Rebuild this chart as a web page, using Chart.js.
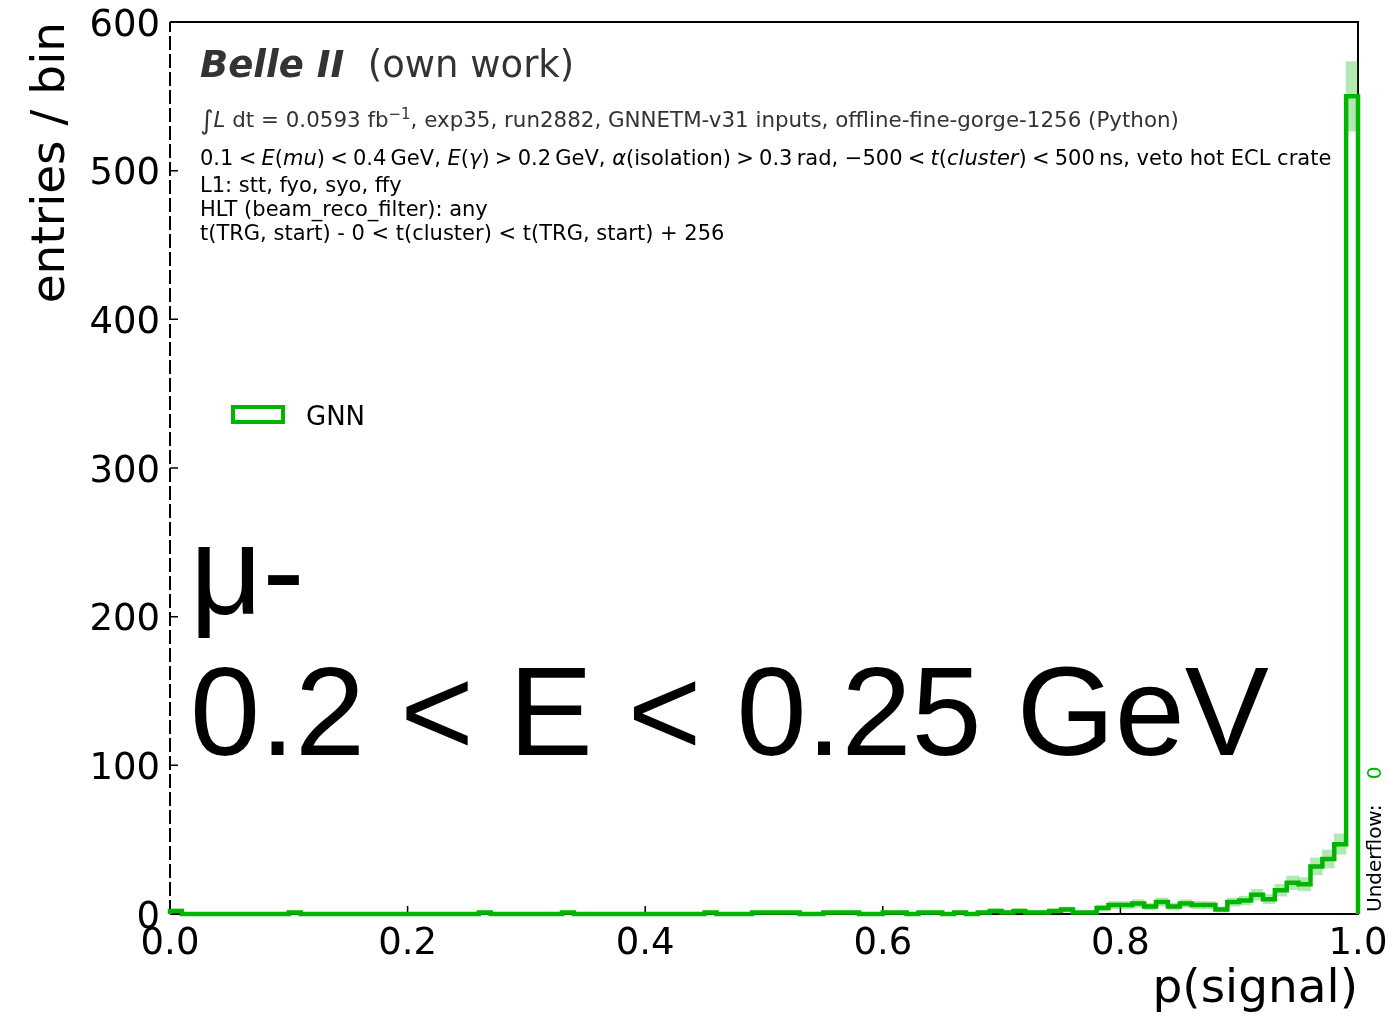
<!DOCTYPE html>
<html>
<head>
<meta charset="utf-8">
<script src="https://cdn.jsdelivr.net/npm/chart.js@4.4.0/dist/chart.umd.min.js"></script>
<style>
  html, body { margin: 0; padding: 0; background: #fff; }
  #wrap { width: 1388px; height: 1022px; }
</style>
</head>
<body>
<div id="wrap"><canvas id="histo" width="1388" height="1022"></canvas></div>
<script>
// GNN output p(signal), 100 bins of width 0.01 between 0 and 1
const binWidth = 0.01
const counts = [
  2, 0, 0, 0, 0, 0, 0, 0, 0, 0,
  1, 0, 0, 0, 0, 0, 0, 0, 0, 0,
  0, 0, 0, 0, 0, 0, 1, 0, 0, 0,
  0, 0, 0, 1, 0, 0, 0, 0, 0, 0,
  0, 0, 0, 0, 0, 1, 0, 0, 0, 1,
  1, 1, 1, 0, 0, 1, 1, 1, 0, 0,
  1, 1, 0, 1, 1, 0, 1, 0, 1, 2,
  1, 2, 1, 1, 2, 3, 1, 1, 4, 6,
  6, 7, 5, 8, 5, 7, 6, 6, 3, 8,
  9, 13, 10, 16, 21, 20, 32, 37, 47, 550
]
const underflow = 0
const xTicks = [0, 0.2, 0.4, 0.6, 0.8, 1.0]
const yTicks = [0, 100, 200, 300, 400, 500, 600]
const selectionLines = [
  'L1: stt, fyo, syo, ffy',
  'HLT (beam_reco_filter): any',
  't(TRG, start) - 0 < t(cluster) < t(TRG, start) + 256'
]

const GREEN = 'rgb(0, 180, 0)'
const BAND = 'rgba(0, 180, 0, 0.3)'
const SANS = '"DejaVu Sans", sans-serif'
const SP = '\u2005'   // narrower gap around relations, like mathtext

// outline of the histogram: step line through the bin edges
const stepPoints = [{ x: 0, y: 0 }]
counts.forEach((c, i) => stepPoints.push({ x: i * binWidth, y: c }))
stepPoints.push({ x: counts.length * binWidth, y: counts[counts.length - 1] })
stepPoints.push({ x: counts.length * binWidth, y: 0 })

// poisson error band per bin
const bandBars = counts.map((c, i) => ({
  x: (i + 0.5) * binWidth,
  y: [c - Math.sqrt(c), c + Math.sqrt(c)]
}))

// text pieces in a row; optional 4th item raises the piece
function drawRuns(ctx, x, y, runs) {
  runs.forEach(([text, font, color, rise]) => {
    ctx.font = font
    ctx.fillStyle = color || '#000'
    ctx.fillText(text, x, y - (rise || 0))
    x += ctx.measureText(text).width
  })
}

const frame = {
  id: 'frame',
  beforeDatasetsDraw(chart) {
    const { ctx, chartArea: a, scales: { x, y } } = chart
    ctx.save()
    ctx.strokeStyle = '#000'
    ctx.lineWidth = 2
    ctx.beginPath()
    ctx.moveTo(a.left, a.top)
    ctx.lineTo(a.right, a.top)
    ctx.lineTo(a.right, a.bottom)
    ctx.lineTo(a.left, a.bottom)
    ctx.stroke()
    ctx.setLineDash([14, 4])
    ctx.beginPath()
    ctx.moveTo(a.left, a.bottom)
    ctx.lineTo(a.left, a.top)
    ctx.stroke()
    ctx.setLineDash([])

    // ticks pointing inwards
    ctx.lineWidth = 1.5
    ctx.beginPath()
    xTicks.forEach(v => {
      const px = x.getPixelForValue(v)
      ctx.moveTo(px, a.bottom)
      ctx.lineTo(px, a.bottom - 8)
    })
    yTicks.forEach(v => {
      const py = y.getPixelForValue(v)
      ctx.moveTo(a.left, py)
      ctx.lineTo(a.left + 8, py)
    })
    ctx.stroke()
    ctx.restore()
  }
}

const labels = {
  id: 'labels',
  afterDraw(chart) {
    const { ctx, chartArea: a } = chart
    ctx.save()
    const tx = a.left + 30
    ctx.textAlign = 'left'
    ctx.textBaseline = 'alphabetic'
    drawRuns(ctx, tx, a.top + 55, [
      ['Belle II', 'italic bold 37px ' + SANS, '#333'],
      ['  (own work)', '37px ' + SANS, '#333']
    ])
    const small = '21px ' + SANS
    const smallIt = 'italic 21px ' + SANS
    const lumi = '21.4px ' + SANS
    drawRuns(ctx, tx, a.top + 105, [
      ['\u222B', '26px ' + SANS, '#333', -2],
      ['L', 'italic 21.4px ' + SANS, '#333'],
      [' dt = 0.0593 fb', lumi, '#333'],
      ['\u22121', '15px ' + SANS, '#333', 8],
      [', exp35, run2882, GNNETM-v31 inputs, offline-fine-gorge-1256 (Python)', lumi, '#333']
    ])
    drawRuns(ctx, tx, a.top + 143, [
      ['0.1' + SP + '<' + SP, small], ['E', smallIt], ['(', small], ['mu', smallIt],
      [')' + SP + '<' + SP + '0.4\u2009GeV, ', small], ['E', smallIt], ['(', small], ['\u03B3', smallIt],
      [')' + SP + '>' + SP + '0.2\u2009GeV, ', small], ['\u03B1', smallIt],
      ['(isolation)' + SP + '>' + SP + '0.3\u2009rad, \u2212500' + SP + '<' + SP, small], ['t', smallIt], ['(', small],
      ['cluster', smallIt], [')' + SP + '<' + SP + '500\u2009ns, veto hot ECL crate', small]
    ])
    ctx.font = small
    ctx.fillStyle = '#000'
    selectionLines.forEach((s, i) => ctx.fillText(s, tx, a.top + 170 + i * 24))

    // legend entry
    ctx.strokeStyle = GREEN
    ctx.lineWidth = 4
    ctx.strokeRect(a.left + 63, a.top + 385, 50, 15)
    ctx.font = '26px ' + SANS
    ctx.fillStyle = '#000'
    ctx.fillText('GNN', a.left + 136, a.top + 403)

    // particle and energy range
    ctx.font = '126px "Liberation Sans", Arial, sans-serif'
    ctx.fillText('\u03BC-', a.left + 20, a.top + 592)
    ctx.fillText('0.2 < E < 0.25 GeV', a.left + 20, a.top + 733)

    // underflow count, vertical on the right
    ctx.translate(a.right + 18, a.bottom - 2)
    ctx.rotate(-Math.PI / 2)
    ctx.textBaseline = 'middle'
    drawRuns(ctx, 0, 0, [
      ['Underflow:    ', '20px ' + SANS, '#000'],
      [String(underflow), '20px ' + SANS, GREEN]
    ])
    ctx.restore()
  }
}

const chart = new Chart(document.getElementById('histo'), {
  type: 'bar',
  data: {
    datasets: [
      {
        type: 'line',
        data: stepPoints,
        borderColor: GREEN,
        borderWidth: 4.5,
        pointRadius: 0,
        stepped: 'before',
        fill: false,
        clip: 4,
        order: 1
      },
      {
        data: bandBars,
        backgroundColor: BAND,
        borderWidth: 0,
        barPercentage: 1,
        categoryPercentage: 1,
        grouped: false,
        order: 2
      }
    ]
  },
  options: {
    responsive: false,
    animation: false,
    devicePixelRatio: 1,
    layout: { padding: { left: 0, top: 22, right: 30, bottom: 0 } },
    plugins: {
      legend: { display: false },
      tooltip: { enabled: false }
    },
    scales: {
      x: {
        type: 'linear',
        min: 0,
        max: 1,
        offset: false,
        grid: { display: false, drawTicks: false },
        border: { display: false },
        afterBuildTicks: s => { s.ticks = xTicks.map(v => ({ value: v })) },
        afterFit: s => { s.height = 108; s.paddingLeft = 0; s.paddingRight = 0 },
        ticks: {
          padding: 8,
          color: '#000',
          font: { family: SANS, size: 37 },
          callback: v => v.toFixed(1),
          maxRotation: 0
        },
        title: {
          display: true,
          text: 'p(signal)',
          align: 'end',
          color: '#000',
          font: { family: SANS, size: 47 },
          padding: { top: 0, bottom: 4 }
        }
      },
      y: {
        min: 0,
        max: 600,
        grid: { display: false, drawTicks: false },
        border: { display: false },
        afterBuildTicks: s => { s.ticks = yTicks.map(v => ({ value: v })) },
        afterFit: s => { s.width = 170; s.paddingTop = 0; s.paddingBottom = 0 },
        ticks: {
          padding: 10,
          labelOffset: 4,
          color: '#000',
          font: { family: SANS, size: 37 }
        },
        title: {
          display: true,
          text: 'entries / bin',
          align: 'end',
          color: '#000',
          font: { family: SANS, size: 47 },
          padding: { top: 24, bottom: 0 }
        }
      }
    }
  },
  plugins: [frame, labels]
})
</script>
</body>
</html>
